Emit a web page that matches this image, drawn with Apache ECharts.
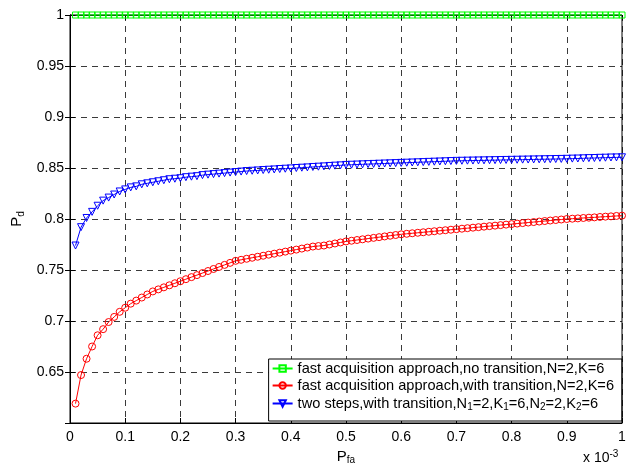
<!DOCTYPE html>
<html>
<head>
<meta charset="utf-8">
<script src="https://cdn.jsdelivr.net/npm/echarts@6/dist/echarts.min.js"></script>
<style>html,body{margin:0;padding:0;background:#fff}#c{width:634px;height:463px}</style>
</head>
<body>
<div id="c"></div>
<script>
const pfa = [0.01,0.02,0.03,0.04,0.05,0.06,0.07,0.08,0.09,0.10,
0.11,0.12,0.13,0.14,0.15,0.16,0.17,0.18,0.19,0.20,
0.21,0.22,0.23,0.24,0.25,0.26,0.27,0.28,0.29,0.30,
0.31,0.32,0.33,0.34,0.35,0.36,0.37,0.38,0.39,0.40,
0.41,0.42,0.43,0.44,0.45,0.46,0.47,0.48,0.49,0.50,
0.51,0.52,0.53,0.54,0.55,0.56,0.57,0.58,0.59,0.60,
0.61,0.62,0.63,0.64,0.65,0.66,0.67,0.68,0.69,0.70,
0.71,0.72,0.73,0.74,0.75,0.76,0.77,0.78,0.79,0.80,
0.81,0.82,0.83,0.84,0.85,0.86,0.87,0.88,0.89,0.90,
0.91,0.92,0.93,0.94,0.95,0.96,0.97,0.98,0.99,1.00];

const noTransition = [1,1,1,1,1,1,1,1,1,1,
1,1,1,1,1,1,1,1,1,1,
1,1,1,1,1,1,1,1,1,1,
1,1,1,1,1,1,1,1,1,1,
1,1,1,1,1,1,1,1,1,1,
1,1,1,1,1,1,1,1,1,1,
1,1,1,1,1,1,1,1,1,1,
1,1,1,1,1,1,1,1,1,1,
1,1,1,1,1,1,1,1,1,1,
1,1,1,1,1,1,1,1,1,1];

const withTransition = [0.619,0.647,0.663,0.675,0.686,0.692,0.699,0.704,0.709,0.713,
0.717,0.720,0.723,0.726,0.729,0.731,0.733,0.735,0.737,0.739,
0.741,0.743,0.745,0.747,0.749,0.751,0.753,0.755,0.757,0.759,
0.760,0.761,0.762,0.763,0.764,0.765,0.766,0.767,0.768,0.769,
0.770,0.771,0.772,0.773,0.7735,0.774,0.775,0.776,0.777,0.778,
0.7787,0.7794,0.7801,0.7808,0.7815,0.7822,0.7829,0.7836,0.7843,0.785,
0.7855,0.786,0.7865,0.787,0.7875,0.788,0.7885,0.789,0.7895,0.790,
0.7905,0.791,0.7915,0.792,0.7925,0.793,0.7935,0.794,0.7945,0.795,
0.7955,0.796,0.7965,0.797,0.7975,0.798,0.7985,0.799,0.7995,0.800,
0.8003,0.8006,0.801,0.8013,0.8016,0.802,0.8023,0.8026,0.803,0.8033];

const twoSteps = [0.774,0.792,0.801,0.807,0.813,0.818,0.821,0.824,0.827,0.829,
0.831,0.832,0.834,0.835,0.836,0.837,0.838,0.839,0.8395,0.840,
0.841,0.8415,0.842,0.843,0.8435,0.844,0.8445,0.845,0.8455,0.846,
0.8465,0.847,0.8473,0.8476,0.848,0.8483,0.8486,0.849,0.8493,0.8496,
0.850,0.8503,0.8506,0.851,0.8513,0.8516,0.852,0.8523,0.8526,0.853,
0.8532,0.8534,0.8536,0.8538,0.854,0.8542,0.8544,0.8546,0.8548,0.855,
0.8552,0.8554,0.8556,0.8558,0.856,0.8562,0.8564,0.8566,0.8568,0.857,
0.8571,0.8572,0.8573,0.8574,0.8575,0.8576,0.8577,0.8578,0.8579,0.858,
0.8581,0.8582,0.8583,0.8584,0.8585,0.8586,0.8587,0.8588,0.8589,0.859,
0.8592,0.8593,0.8595,0.8597,0.8598,0.86,0.8601,0.8603,0.8604,0.8605];

const xTicks = ['0','0.1','0.2','0.3','0.4','0.5','0.6','0.7','0.8','0.9','1'];
const yTicks = ['','0.65','0.7','0.75','0.8','0.85','0.9','0.95','1'];

const legendNames = [
  'fast acquisition approach,no transition,N=2,K=6',
  'fast acquisition approach,with transition,N=2,K=6',
  'two steps,with transition,N1=2,K1=6,N2=2,K2=6'
];

const font = 'Liberation Sans, Arial, sans-serif';
const chart = echarts.init(document.getElementById('c'), null, {renderer:'canvas'});

function pairs(ys){ return pfa.map((x,i)=>[x, ys[i]]); }

const gridDash = {type:[6,5], color:'#3a3a3a', width:1};
const sub = {fontSize:10, fontFamily:font, color:'#000', padding:[8,0,0,0]};

chart.setOption({
  animation:false,
  backgroundColor:'#fff',
  textStyle:{fontFamily:font},
  grid:{left:70, right:12, top:15, bottom:40, containLabel:false, outerBoundsMode:'none',
    show:true, borderColor:'#000', borderWidth:1, backgroundColor:'transparent', z:5},
  xAxis:[{
    type:'value', min:0, max:1, interval:0.1,
    name:'{m|P}{s|fa}', nameLocation:'middle', nameGap:21,
    nameTextStyle:{rich:{m:{fontSize:15, fontFamily:font, color:'#000'}, s:sub}},
    axisLine:{show:true, lineStyle:{color:'#000', width:1}},
    axisTick:{show:true, inside:true, length:5, lineStyle:{color:'#000'}},
    axisLabel:{color:'#000', fontSize:14, margin:7, fontFamily:font,
      formatter:(v)=>xTicks[Math.round(v*10)]},
    splitLine:{show:true, lineStyle:gridDash}
  },{
    type:'value', min:0, max:1, interval:0.1, position:'top',
    axisLine:{show:true, lineStyle:{color:'#000'}},
    axisTick:{show:true, inside:true, length:5, lineStyle:{color:'#000'}},
    axisLabel:{show:false}, splitLine:{show:false}
  }],
  yAxis:[{
    type:'value', min:0.6, max:1, interval:0.05,
    name:'{m|P}{s|d}', nameLocation:'middle', nameGap:43, nameRotate:90,
    nameTextStyle:{rich:{m:{fontSize:15, fontFamily:font, color:'#000'}, s:sub}},
    axisLine:{show:true, lineStyle:{color:'#000', width:1}},
    axisTick:{show:true, inside:true, length:5, lineStyle:{color:'#000'}},
    axisLabel:{color:'#000', fontSize:14, margin:6, fontFamily:font,
      formatter:(v)=>yTicks[Math.round((v-0.6)/0.05)]},
    splitLine:{show:true, lineStyle:gridDash}
  },{
    type:'value', min:0.6, max:1, interval:0.05, position:'right',
    axisLine:{show:true, lineStyle:{color:'#000'}},
    axisTick:{show:true, inside:true, length:5, lineStyle:{color:'#000'}},
    axisLabel:{show:false}, splitLine:{show:false}
  }],
  legend:{
    orient:'vertical', right:12, bottom:42,
    backgroundColor:'#fff', borderColor:'#000', borderWidth:1,
    padding:[2,8,9,3], itemGap:2, itemWidth:20, itemHeight:8,
    data:legendNames,
    textStyle:{fontSize:14.6, color:'#000', fontFamily:font,
      rich:{n:{fontSize:14.6, fontFamily:font, color:'#000', lineHeight:19}, s:{fontSize:10, fontFamily:font, color:'#000', padding:[7,0,0,0], lineHeight:19}}},
    formatter:(name)=>{
      if(name===legendNames[2]){
        return '{n|two steps,with transition,N}{s|1}{n|=2,K}{s|1}{n|=6,N}{s|2}{n|=2,K}{s|2}{n|=6}';
      }
      return '{n|'+name+'}';
    }
  },
  graphic:[{
    type:'text', left:583, top:449,
    style:{text:'{a|x 10}{b|-3}', rich:{a:{fontSize:14, fontFamily:font, fill:'#000'}, b:{fontSize:10, fontFamily:font, fill:'#000', padding:[0,0,9,0]}}}
  }],
  series:[{
    name:legendNames[0], type:'line', data:pairs(noTransition), clip:false,
    symbol:'rect', symbolSize:6, z:10,
    lineStyle:{color:'#00ff00', width:1},
    itemStyle:{color:'rgba(0,0,0,0)', borderColor:'#00ff00', borderWidth:1}
  },{
    name:legendNames[1], type:'line', data:pairs(withTransition), clip:false,
    symbol:'circle', symbolSize:7, z:10,
    lineStyle:{color:'#ff0000', width:1},
    itemStyle:{color:'rgba(0,0,0,0)', borderColor:'#ff0000', borderWidth:1}
  },{
    name:legendNames[2], type:'line', data:pairs(twoSteps), clip:false,
    symbol:'triangle', symbolSize:7, symbolRotate:180, z:10,
    lineStyle:{color:'#0000ff', width:1},
    itemStyle:{color:'rgba(0,0,0,0)', borderColor:'#0000ff', borderWidth:1}
  }]
});
</script>
</body>
</html>
